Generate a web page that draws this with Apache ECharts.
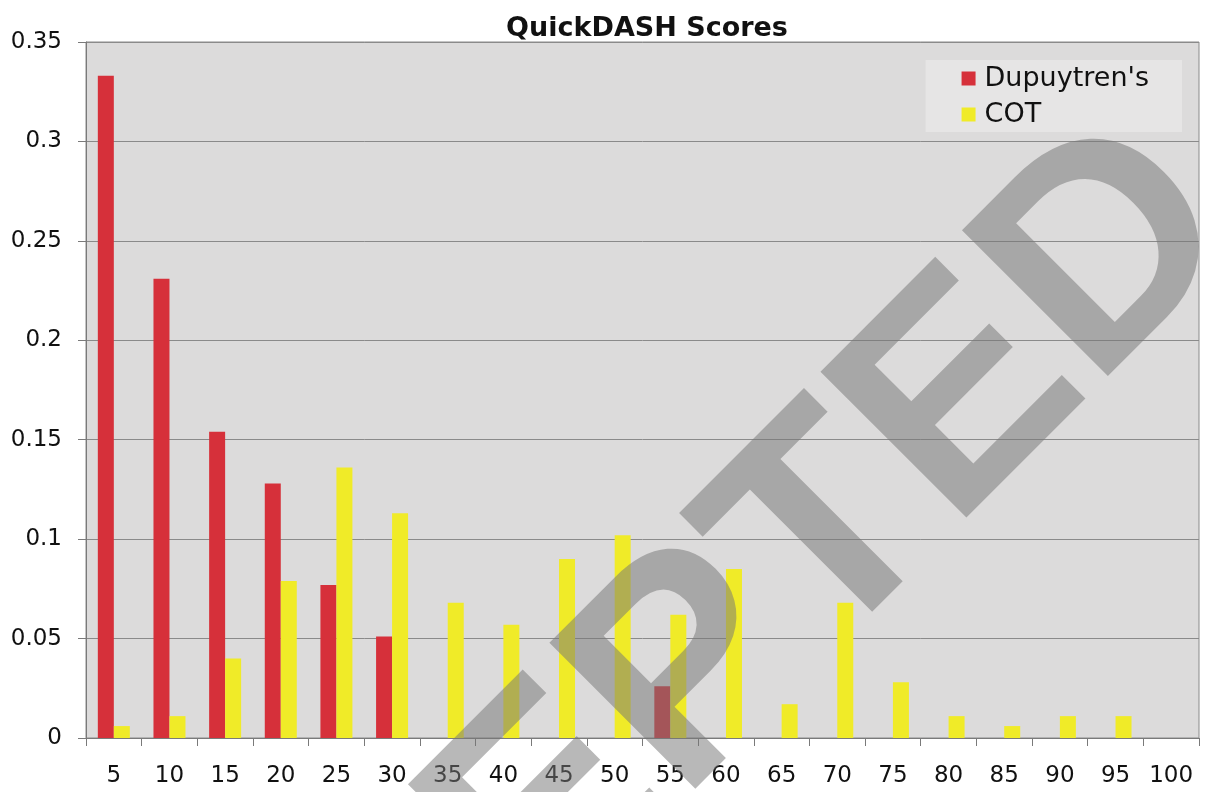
<!DOCTYPE html>
<html>
<head>
<meta charset="utf-8">
<script src="https://cdn.jsdelivr.net/npm/echarts@6/dist/echarts.min.js"></script>
<style>
html,body{margin:0;padding:0;background:#ffffff;}
#chart{width:1209px;height:792px;}
</style>
</head>
<body>
<div id="chart"></div>
<script>
const categories = ['5','10','15','20','25','30','35','40','45','50','55','60','65','70','75','80','85','90','95','100'];
const dupuytren = [0.333,0.231,0.154,0.128,0.077,0.051,0,0,0,0,0.026,0,0,0,0,0,0,0,0,0];
const cot = [0.006,0.011,0.040,0.079,0.136,0.113,0.068,0.057,0.090,0.102,0.062,0.085,0.017,0.068,0.028,0.011,0.006,0.011,0.011,0];
const seriesNames = ["Dupuytren's", 'COT'];
const titleText = 'QuickDASH Scores';
const watermarkText = 'ACCEPTED';

const chart = echarts.init(document.getElementById('chart'), null, {renderer:'canvas'});
const font = '"DejaVu Sans", Verdana, sans-serif';
chart.setOption({
  animation:false,
  backgroundColor:'#ffffff',
  title:{
    text:titleText, left:642, top:10, textAlign:'center',
    textStyle:{fontFamily:font, fontWeight:'bold', fontSize:27, color:'#111'}
  },
  legend:{
    orient:'vertical', right:27, top:60,
    backgroundColor:'#e6e5e5',
    padding:[5,33,4,36],
    itemWidth:14, itemHeight:14, itemGap:9,
    icon:'rect',
    textStyle:{fontFamily:font, fontSize:27, color:'#111', padding:[0,0,0,4]},
    data:seriesNames
  },
  grid:{
    left:86, right:10, top:42, bottom:54,
    show:true, backgroundColor:'#dcdbdb', borderColor:'#8a8a8a', borderWidth:1,
    containLabel:false
  },
  xAxis:{
    type:'category', data:categories,
    axisLine:{lineStyle:{color:'#7a7a7a', width:1}},
    axisTick:{show:true, alignWithLabel:false, length:8, lineStyle:{color:'#7a7a7a'}},
    axisLabel:{fontFamily:font, fontSize:23, color:'#111', margin:27, interval:0}
  },
  yAxis:{
    type:'value', min:0, max:0.35, interval:0.05,
    axisLine:{show:true, lineStyle:{color:'#7a7a7a'}},
    axisTick:{show:true, length:8, lineStyle:{color:'#7a7a7a'}},
    axisLabel:{fontFamily:font, fontSize:23, color:'#111', margin:24, padding:[6,0,0,0]},
    splitLine:{lineStyle:{color:'#8a8a8a', width:1}}
  },
  series:[
    {name:seriesNames[0], type:'bar', data:dupuytren, barWidth:16, barGap:'0%', itemStyle:{color:'#d6303a'}},
    {name:seriesNames[1], type:'bar', data:cot, barWidth:16, barGap:'0%', itemStyle:{color:'#f0eb28'}}
  ],
  graphic:[{
    type:'text', x:605, y:762, rotation:Math.PI/4, z:100, silent:true,
    style:{
      text:watermarkText,
      font:'bold 300px "Liberation Sans", Arial, sans-serif',
      fill:'rgba(118,118,118,0.52)',
      align:'center', verticalAlign:'middle'
    }
  }]
});
</script>
</body>
</html>
